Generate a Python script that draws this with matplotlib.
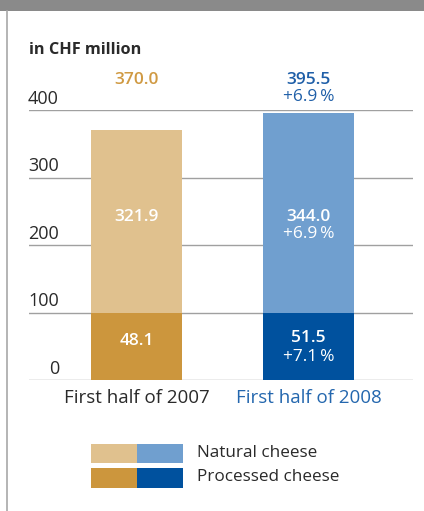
import matplotlib
matplotlib.use("Agg")
import matplotlib.pyplot as plt
from matplotlib.patches import Rectangle
from matplotlib.lines import Line2D
import matplotlib.transforms as mtransforms

# ---- data ----
categories = ["First half of 2007", "First half of 2008"]
processed = [48.1, 51.5]
natural = [321.9, 344.0]
totals = [370.0, 395.5]
# drawn height of the processed segment
processed_bar = [100, 100]
natural_growth = [None, "+6.9\u2009%"]
processed_growth = [None, "+7.1\u2009%"]
total_growth = [None, "+6.9\u2009%"]
yticks = [0, 100, 200, 300, 400]
legend_labels = ["Natural cheese", "Processed cheese"]

# ---- style ----
FONT = ["Open Sans", "DejaVu Sans"]
plt.rcParams["font.family"] = FONT
light = ["#E0C18E", "#709FCF"]
dark = ["#CC963D", "#00519E"]
cat_colors = ["#2A2A2A", "#2467AE"]
total_colors = ["#D09A43", "#1F5FA8"]
TXT = "#2A2A2A"
GRID = "#A0A0A0"
FS = 12.5

W, H = 424, 511
fig = plt.figure(figsize=(W / 100, H / 100), dpi=100)

def fx(px):
    return px / W

def fy(py):
    return 1 - py / H

# header band and left border
fig.add_artist(Rectangle((0, fy(11)), 1, 11 / H, transform=fig.transFigure,
                         facecolor="#8A8A8A", edgecolor="none"))
fig.add_artist(Line2D([fx(6.5), fx(6.5)], [0, fy(11)], transform=fig.transFigure,
                      color="#A8A8A8", lw=1.2))

fig.text(fx(29), fy(50), "in CHF million", fontsize=11.7, fontweight="bold",
         color=TXT, ha="left", va="center")

ax_left, ax_right = 29, 413
ax_bottom, ax_top = 380, 110
ax = fig.add_axes([fx(ax_left), fy(ax_bottom), fx(ax_right - ax_left),
                   (ax_bottom - ax_top) / H])
ax.set_ylim(0, 400)
ax.set_xlim(-0.625, 1.6076)
ax.axis("off")

for t in yticks:
    ax.axhline(t, color=GRID, lw=1.0, zorder=1)

x = [0, 1]
bw = 0.529
nat_drawn = [t - p for t, p in zip(totals, processed_bar)]
ax.bar(x, processed_bar, width=bw, color=dark, zorder=2)
ax.bar(x, nat_drawn, bottom=processed_bar, width=bw, color=light, zorder=2)

# y tick labels: right aligned at px 59, sitting above gridlines
tr = mtransforms.blended_transform_factory(fig.transFigure, ax.transData)
off = mtransforms.ScaledTranslation(0, 1.5 / 72, fig.dpi_scale_trans)
for t in yticks:
    ax.text(fx(59), t, str(t), transform=tr + off,
            ha="right", va="bottom", fontsize=13, color=TXT)

# value labels
for i in range(2):
    w = "semibold"
    ax.text(x[i], 242, f"{natural[i]:.1f}", ha="center", va="center",
            color="white", fontsize=FS, fontweight=w, zorder=3)
    if natural_growth[i]:
        ax.text(x[i], 216, natural_growth[i], ha="center", va="center",
                color="white", fontsize=FS, zorder=3)
    if processed_growth[i]:
        ax.text(x[i], 62, f"{processed[i]:.1f}", ha="center", va="center",
                color="white", fontsize=FS, fontweight=w, zorder=3)
        ax.text(x[i], 34, processed_growth[i], ha="center", va="center",
                color="white", fontsize=FS, zorder=3)
    else:
        ax.text(x[i], 58, f"{processed[i]:.1f}", ha="center", va="center",
                color="white", fontsize=FS, fontweight=w, zorder=3)
    ax.text(x[i], 444, f"{totals[i]:.1f}", ha="center", va="center",
            color=total_colors[i], fontsize=FS, fontweight=w, clip_on=False)
    if total_growth[i]:
        ax.text(x[i], 419, total_growth[i], ha="center", va="center",
                color=total_colors[i], fontsize=FS, clip_on=False)
    ax.text(x[i], -26, categories[i], ha="center", va="center",
            color=cat_colors[i], fontsize=13.5, clip_on=False)

# legend
rows = [(444, 463, light), (468, 488, dark)]
for (y0, y1, cols), lab in zip(rows, legend_labels):
    fig.add_artist(Rectangle((fx(91), fy(y1)), fx(46), (y1 - y0) / H,
                             transform=fig.transFigure, facecolor=cols[0], edgecolor="none"))
    fig.add_artist(Rectangle((fx(137), fy(y1)), fx(46), (y1 - y0) / H,
                             transform=fig.transFigure, facecolor=cols[1], edgecolor="none"))
    fig.text(fx(197), fy((y0 + y1) / 2 - 1), lab, ha="left", va="center",
             fontsize=12.3, color=TXT)

fig.savefig("out.png", dpi=100)
